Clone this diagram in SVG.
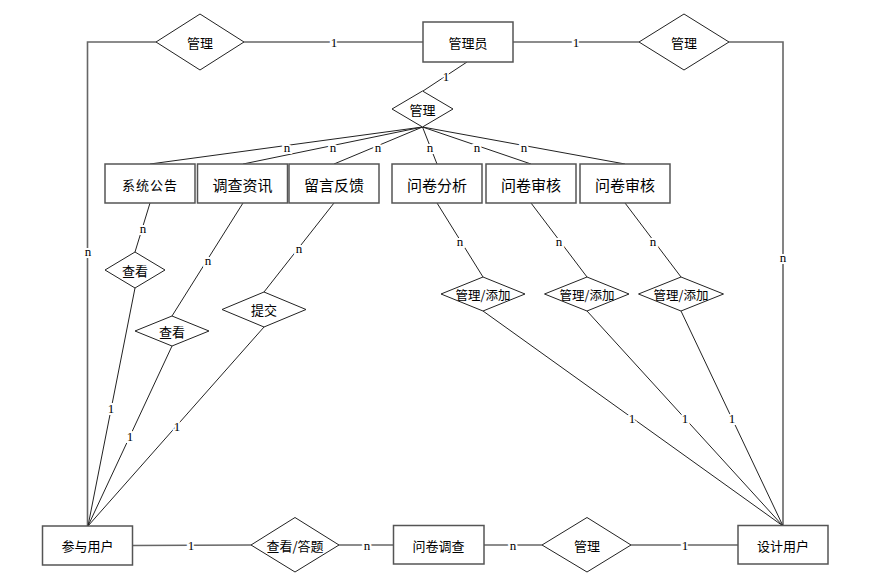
<svg xmlns="http://www.w3.org/2000/svg" width="873" height="580" viewBox="0 0 873 580">
<style>
.box{fill:#fff;stroke:#555;stroke-width:1.5}
.dia{fill:#fff;stroke:#222;stroke-width:1}
.t{font-family:"Noto Sans CJK SC","Liberation Sans",sans-serif;font-size:13px;fill:#000;text-anchor:middle;dominant-baseline:central}
.t15{font-size:15px}
.t12{font-size:12.5px}
.hl{fill:none;stroke:#666;stroke-width:1.6}
.dl{fill:none;stroke:#222;stroke-width:1}
.lb{font-family:"Liberation Serif",serif;font-size:13px;fill:#000;text-anchor:middle;dominant-baseline:central;stroke:#fff;stroke-width:4;paint-order:stroke}
</style>
<rect width="873" height="580" fill="#fff"/>
<g id="connectors">
<polyline class="hl" points="156,42 87.5,42 87.5,526"/>
<line class="hl" x1="244" y1="42" x2="423" y2="42"/>
<line class="hl" x1="513" y1="42" x2="639" y2="42"/>
<polyline class="hl" points="729,42 783,42 783,526"/>
<line class="dl" x1="467" y1="62" x2="423" y2="91"/>
<line class="dl" x1="422.5" y1="127" x2="150" y2="164"/>
<line class="dl" x1="422.5" y1="127" x2="243" y2="164"/>
<line class="dl" x1="422.5" y1="127" x2="334" y2="164"/>
<line class="dl" x1="422.5" y1="127" x2="437" y2="164"/>
<line class="dl" x1="422.5" y1="127" x2="531" y2="164"/>
<line class="dl" x1="422.5" y1="127" x2="625" y2="164"/>
<line class="dl" x1="150" y1="203" x2="135" y2="252"/>
<line class="dl" x1="135" y1="288" x2="88" y2="526"/>
<line class="dl" x1="243" y1="203" x2="172" y2="316"/>
<line class="dl" x1="172" y1="346" x2="88" y2="526"/>
<line class="dl" x1="334" y1="203" x2="264" y2="292"/>
<line class="dl" x1="264" y1="327" x2="88" y2="526"/>
<line class="dl" x1="437" y1="203" x2="483" y2="277"/>
<line class="dl" x1="483" y1="311" x2="783" y2="526"/>
<line class="dl" x1="531" y1="203" x2="587" y2="277"/>
<line class="dl" x1="587" y1="311" x2="783" y2="526"/>
<line class="dl" x1="625" y1="203" x2="681" y2="277"/>
<line class="dl" x1="681" y1="311" x2="783" y2="526"/>
<line class="hl" x1="132" y1="545.5" x2="251" y2="545"/>
<line class="hl" x1="339" y1="545" x2="393" y2="545"/>
<line class="hl" x1="484" y1="545" x2="542" y2="545"/>
<line class="hl" x1="631" y1="545" x2="738" y2="545"/>
<text class="lb" x="334" y="42">1</text>
<text class="lb" x="576" y="42">1</text>
<text class="lb" x="88" y="251">n</text>
<text class="lb" x="783" y="257">n</text>
<text class="lb" x="446" y="76">1</text>
<text class="lb" x="287" y="147">n</text>
<text class="lb" x="333" y="147">n</text>
<text class="lb" x="378" y="147">n</text>
<text class="lb" x="430" y="147">n</text>
<text class="lb" x="477" y="147">n</text>
<text class="lb" x="524" y="147">n</text>
<text class="lb" x="143" y="228">n</text>
<text class="lb" x="208" y="260">n</text>
<text class="lb" x="299" y="248">n</text>
<text class="lb" x="111" y="408">1</text>
<text class="lb" x="130" y="436">1</text>
<text class="lb" x="177" y="426">1</text>
<text class="lb" x="460" y="241">n</text>
<text class="lb" x="559" y="241">n</text>
<text class="lb" x="653" y="241">n</text>
<text class="lb" x="632" y="418">1</text>
<text class="lb" x="685" y="418">1</text>
<text class="lb" x="732" y="418">1</text>
<text class="lb" x="191" y="545">1</text>
<text class="lb" x="367" y="545">n</text>
<text class="lb" x="513" y="545">n</text>
<text class="lb" x="685" y="545">1</text>
</g>
<g id="admin"><rect class="box" x="423" y="22" width="90" height="40"/><text class="t" x="468" y="42">管理员</text></g>
<g id="rel-admin-left"><polygon class="dia" points="156,42 200,14 244,42 200,70"/><text class="t" x="200" y="42">管理</text></g>
<g id="rel-admin-right"><polygon class="dia" points="639,42 684,14 729,42 684,70"/><text class="t" x="684" y="42">管理</text></g>
<g id="rel-admin-center"><polygon class="dia" points="392,109 422.5,91 453,109 422.5,127"/><text class="t" x="422.5" y="109">管理</text></g>
<g id="e-notice"><rect class="box" x="105" y="164" width="90" height="39"/><text class="t" x="150" y="184" font-size="12.5" letter-spacing="1">系统公告</text></g>
<g id="e-news"><rect class="box" x="197.5" y="164" width="90" height="39"/><text class="t t15" x="242.5" y="184">调查资讯</text></g>
<g id="e-feedback"><rect class="box" x="289" y="164" width="90" height="39"/><text class="t t15" x="334" y="184">留言反馈</text></g>
<g id="e-analysis"><rect class="box" x="392" y="164" width="90" height="39"/><text class="t t15" x="437" y="184">问卷分析</text></g>
<g id="e-review1"><rect class="box" x="486" y="164" width="90" height="39"/><text class="t t15" x="531" y="184">问卷审核</text></g>
<g id="e-review2"><rect class="box" x="580" y="164" width="90" height="39"/><text class="t t15" x="625" y="184">问卷审核</text></g>
<g id="rel-view1"><polygon class="dia" points="105,270 135,252 165,270 135,288"/><text class="t" x="135" y="270">查看</text></g>
<g id="rel-view2"><polygon class="dia" points="135,331 172,316 209,331 172,346"/><text class="t" x="172" y="331">查看</text></g>
<g id="rel-submit"><polygon class="dia" points="222,309.5 264,292 306,309.5 264,327"/><text class="t" x="264" y="309.5">提交</text></g>
<g id="rel-add1"><polygon class="dia" points="441,294 483,277 525,294 483,311"/><text class="t t12" x="483" y="294">管理/添加</text></g>
<g id="rel-add2"><polygon class="dia" points="544.5,294 587,277 629,294 587,311"/><text class="t t12" x="587" y="294">管理/添加</text></g>
<g id="rel-add3"><polygon class="dia" points="638.5,294 681,277 723.5,294 681,311"/><text class="t t12" x="681" y="294">管理/添加</text></g>
<g id="e-participant"><rect class="box" x="42.5" y="526" width="90" height="39"/><text class="t" x="87.5" y="545.5">参与用户</text></g>
<g id="rel-answer"><polygon class="dia" points="251,545 295,517.5 339,545 295,572"/><text class="t" x="295" y="545">查看/答题</text></g>
<g id="e-survey"><rect class="box" x="393.5" y="525.5" width="90.5" height="38.5"/><text class="t" x="438.5" y="545">问卷调查</text></g>
<g id="rel-manage-bottom"><polygon class="dia" points="542,545 587,517.5 631,545 587,572"/><text class="t" x="587" y="545">管理</text></g>
<g id="e-designer"><rect class="box" x="738" y="525.5" width="90" height="38.5"/><text class="t" x="783" y="545">设计用户</text></g>
</svg>
